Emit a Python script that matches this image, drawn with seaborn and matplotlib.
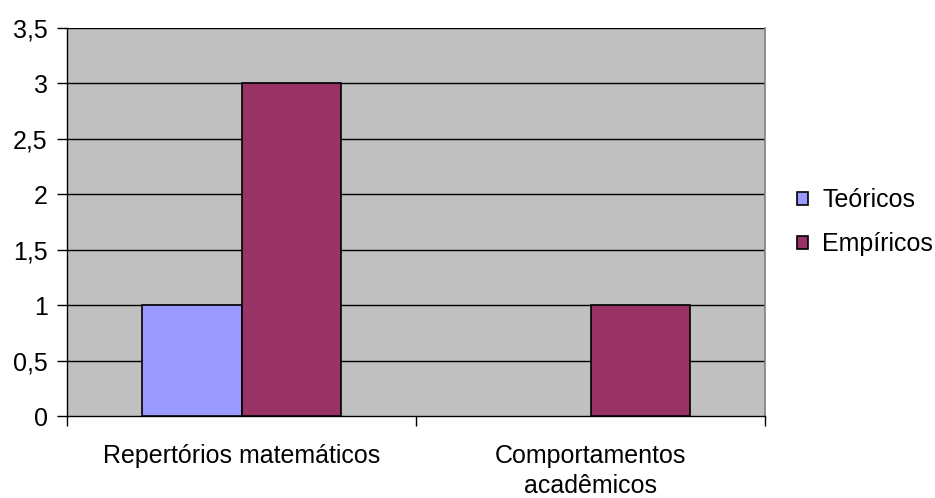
import matplotlib
matplotlib.use("Agg")
import matplotlib.pyplot as plt
import seaborn as sns
import pandas as pd
from matplotlib.patches import Patch

categories = ["Repertórios matemáticos", "Comportamentos\nacadêmicos"]
series_names = ["Teóricos", "Empíricos"]
teoricos = [1, 0]
empiricos = [3, 1]
colors = ["#9999FF", "#993366"]
yticks = [0, 0.5, 1, 1.5, 2, 2.5, 3, 3.5]
ytick_labels = ["0", "0,5", "1", "1,5", "2", "2,5", "3", "3,5"]

df = pd.DataFrame({
    "categoria": categories * 2,
    "serie": [series_names[0]] * 2 + [series_names[1]] * 2,
    "valor": teoricos + empiricos,
})

sns.set_theme(style="white")
plt.rcParams["font.family"] = ["Liberation Sans", "DejaVu Sans"]
plt.rcParams["text.color"] = "black"
plt.rcParams["xtick.color"] = "black"
plt.rcParams["ytick.color"] = "black"
plt.rcParams["xtick.labelcolor"] = "black"
plt.rcParams["ytick.labelcolor"] = "black"
FS = 18

fig = plt.figure(figsize=(9.35, 4.98), dpi=100)
ax = fig.add_axes([67/935, 1-416/498, (765-67)/935, (416-28)/498])
ax.set_facecolor("#C0C0C0")

sns.barplot(data=df, x="categoria", y="valor", hue="serie", order=categories,
            hue_order=series_names, palette=colors, width=0.573, gap=0,
            edgecolor="black", linewidth=1.2, saturation=1, ax=ax, legend=False,
            zorder=3)
for p in ax.patches:
    if p.get_height() == 0:
        p.set_linewidth(0)

ax.set_xlim(-0.5, 1.5)
ax.set_ylim(0, 3.5)
ax.set_yticks(yticks)
ax.set_yticklabels(ytick_labels)
for y in yticks[1:]:
    ax.axhline(y, color="#000000", lw=1.0, zorder=1)
ax.set_xlabel("")
ax.set_ylabel("")

ax.set_xticks([0, 1])
ax.set_xticklabels(categories, linespacing=1.35, color="black")
ax.set_xticks([-0.5, 0.5, 1.5], minor=True)
ax.tick_params(axis="x", which="major", length=0, pad=20, labelsize=FS)
ax.tick_params(axis="x", which="minor", length=7, width=1, color="black", direction="out", bottom=True)
ax.tick_params(axis="y", which="major", length=7, width=1, color="black", direction="out", left=True, labelsize=FS, pad=7)

ax.spines["top"].set_visible(False)
ax.spines["right"].set_color("#808080")
ax.spines["right"].set_linewidth(1.2)
ax.spines["left"].set_color("black")
ax.spines["bottom"].set_color("black")
ax.spines["left"].set_linewidth(1)
ax.spines["bottom"].set_linewidth(1)

handles = [Patch(facecolor=c, edgecolor="black", linewidth=1.2) for c in colors]
fig.legend(handles, series_names, loc="center left", bbox_to_anchor=(797/935, 1-222/498),
           frameon=False, fontsize=FS, handlelength=0.42, handleheight=0.42,
           handletextpad=0.6, labelspacing=0.8, borderpad=0, borderaxespad=0,
           labelcolor="black")

fig.savefig("out.png", dpi=100, facecolor="white")
